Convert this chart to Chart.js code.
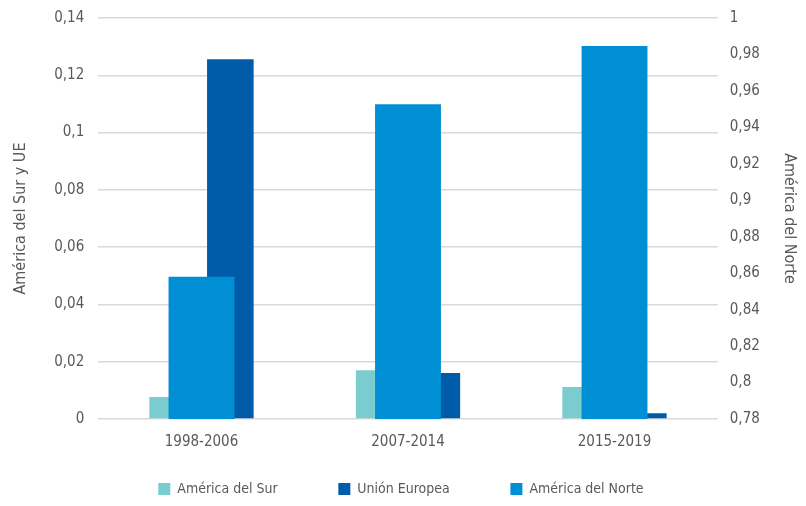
<!DOCTYPE html>
<html>
<head>
<meta charset="utf-8">
<script src="https://cdn.jsdelivr.net/npm/chart.js@4.4.1/dist/chart.umd.min.js"></script>
<style>
  html, body { margin: 0; padding: 0; background: #fff; }
  #wrap { width: 806px; height: 506px; position: relative; }
</style>
</head>
<body>
<div id="wrap"><canvas id="chart"></canvas></div>
<script>
const categories = ['1998-2006', '2007-2014', '2015-2019'];
const sur = [0.0077, 0.0170, 0.0112];
const ue = [0.1256, 0.0161, 0.0020];
const norte = [0.858, 0.9527, 0.9846];

const FONT = "'Liberation Sans Narrow', 'DejaVu Sans Condensed', 'Roboto Condensed', sans-serif";
const TEXT = '#595959';

function fmt(v) {
  const r = Math.round(v * 100) / 100;
  return String(r).replace('.', ',');
}

// wider gaps between legend items without blowing up the legend height
const GAP = '\u2003\u2003\u2003\u2003\u2002';
const TAIL = '\u2003\u2009';

// y axes reserve tick padding above the top label; keep only what the label needs
function trimTop(scale) {
  scale.paddingTop = 18;
}

const ctx = document.getElementById('chart').getContext('2d');
new Chart(ctx, {
  type: 'bar',
  data: {
    labels: categories,
    datasets: [
      {
        label: 'América del Sur',
        data: sur,
        backgroundColor: '#7acccf',
        yAxisID: 'y',
        order: 1,
        categoryPercentage: 0.559,
        barPercentage: 0.807,
      },
      {
        label: 'Unión Europea',
        data: ue,
        backgroundColor: '#005ba9',
        yAxisID: 'y',
        order: 1,
        categoryPercentage: 0.559,
        barPercentage: 0.807,
      },
      {
        label: 'América del Norte',
        data: norte,
        backgroundColor: '#008fd5',
        yAxisID: 'y1',
        order: 0,
        grouped: false,
        categoryPercentage: 1,
        barPercentage: 0.319,
      },
    ],
  },
  options: {
    responsive: true,
    maintainAspectRatio: false,
    animation: false,
    layout: { padding: { left: 11, right: 0, top: 0, bottom: 0 } },
    plugins: {
      legend: {
        position: 'bottom',
        labels: {
          color: TEXT,
          font: { family: FONT, size: 14 },
          boxWidth: 12,
          boxHeight: 12,
          padding: 4,
          sort: (a, b) => a.datasetIndex - b.datasetIndex,
          generateLabels: chart => {
            const items = Chart.defaults.plugins.legend.labels.generateLabels(chart);
            items.forEach(it => {
              it.text = it.text + (it.datasetIndex < 2 ? GAP : TAIL);
            });
            return items;
          },
        },
      },
      tooltip: { enabled: false },
    },
    scales: {
      x: {
        grid: { display: false },
        border: { display: false },
        ticks: { color: TEXT, font: { family: FONT, size: 15 }, padding: 6 },
        // empty title only keeps room between the axis labels and the legend
        title: { display: true, text: '', font: { size: 10 }, padding: { top: 4, bottom: 5 } },
      },
      y: {
        position: 'left',
        min: 0,
        max: 0.14,
        afterFit: trimTop,
        ticks: {
          stepSize: 0.02,
          color: TEXT,
          font: { family: FONT, size: 15 },
          padding: 14,
          callback: v => fmt(v),
        },
        grid: { color: '#d9d9d9', lineWidth: 1.5, drawTicks: false },
        border: { display: false },
        title: {
          display: true,
          text: 'América del Sur y UE',
          color: TEXT,
          font: { family: FONT, size: 16 },
          padding: { top: 0, bottom: 10 },
        },
      },
      y1: {
        position: 'right',
        min: 0.78,
        max: 1,
        afterFit: trimTop,
        ticks: {
          stepSize: 0.02,
          color: TEXT,
          font: { family: FONT, size: 15 },
          padding: 12,
          callback: v => fmt(v),
        },
        grid: { display: false, drawTicks: false },
        border: { display: false },
        title: {
          display: true,
          text: 'América del Norte',
          color: TEXT,
          font: { family: FONT, size: 16 },
          padding: { top: 7, bottom: 8 },
        },
      },
    },
  },
});
</script>
</body>
</html>
